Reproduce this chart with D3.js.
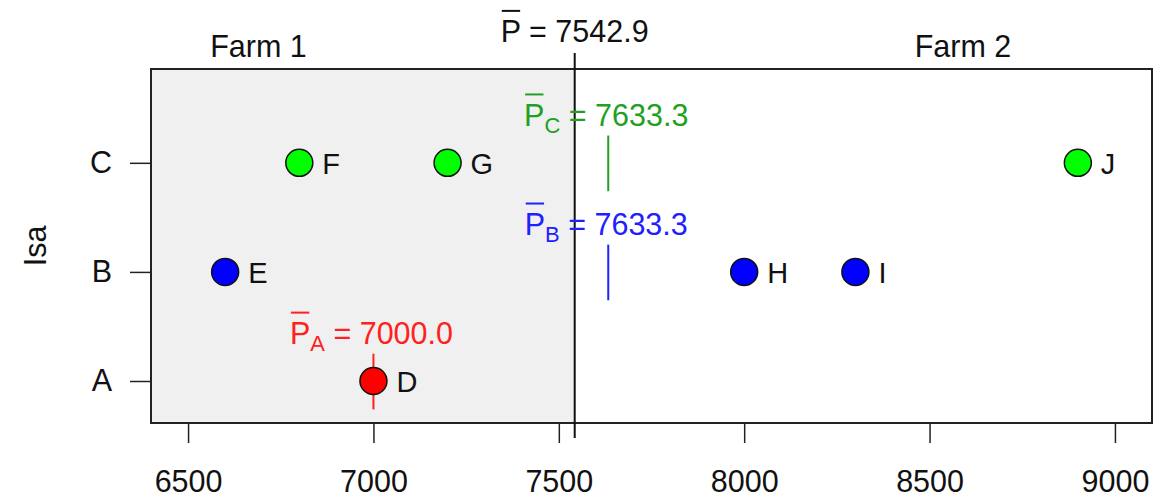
<!DOCTYPE html>
<html>
<head>
<meta charset="utf-8">
<script src="https://cdn.jsdelivr.net/npm/d3@7"></script>
<style>
  html, body { margin: 0; padding: 0; background: #ffffff; }
  text { font-family: "Liberation Sans", Arial, sans-serif; }
</style>
</head>
<body>
<svg id="chart" width="1161" height="499"></svg>
<script>
// ---------------- data ----------------
const pointNames  = ["D", "E", "F", "G", "H", "I", "J"];
const pointGroups = ["A", "B", "C", "C", "B", "B", "C"];
const pointValues = [7000, 6600, 6800, 7200, 8000, 8300, 8900];
const groupLevels = ["A", "B", "C"];
const groupFill   = ["#FF0000", "#0000FF", "#00FF00"];
const groupText   = ["#FF2020", "#2020FF", "#22A022"];
const xTicks      = [6500, 7000, 7500, 8000, 8500, 9000];
const farmNames   = ["Farm 1", "Farm 2"];
const farmLabelAt = [6690, 8590];
const yAxisTitle  = "Isa";

// ---------------- layout ----------------
const svg = d3.select("#chart");
const L = 151, R = 1152, T = 69, B = 423;
const FS = 30.5;

const x = d3.scaleLinear().domain([6400, 9100]).range([L, R]);
const y = d3.scaleLinear().domain([0.615, 3.86]).range([B, T]);
const lvl = g => groupLevels.indexOf(g) + 1;

const grand = d3.mean(pointValues);
const groupMeans = groupLevels.map(g =>
  d3.mean(pointValues.filter((v, i) => pointGroups[i] === g)));

// shaded farm 1 region
svg.append("rect")
  .attr("x", L).attr("y", T)
  .attr("width", x(grand) - L).attr("height", B - T)
  .attr("fill", "#F0F0F0");

// x axis
const xAxis = d3.axisBottom(x).tickValues(xTicks).tickSize(20).tickPadding(27)
  .tickFormat(d3.format("d"));
const gx = svg.append("g").attr("transform", `translate(0,${B})`).call(xAxis);
gx.select(".domain").remove();
gx.selectAll("line").attr("stroke", "#222").attr("stroke-width", 1.5);
gx.selectAll("text").attr("font-size", FS).attr("fill", "#111")
  .attr("font-family", "Liberation Sans, Arial, sans-serif");

// y axis
const yAxis = d3.axisLeft(y).tickValues([1, 2, 3]).tickSize(21).tickPadding(18)
  .tickFormat(d => groupLevels[d - 1]);
const gy = svg.append("g").attr("transform", `translate(${L},0)`).call(yAxis);
gy.select(".domain").remove();
gy.selectAll("line").attr("stroke", "#222").attr("stroke-width", 1.5);
gy.selectAll("text").attr("font-size", FS).attr("fill", "#111")
  .attr("font-family", "Liberation Sans, Arial, sans-serif");

// y title
svg.append("text")
  .attr("transform", `translate(46,${(T + B) / 2}) rotate(-90)`)
  .attr("text-anchor", "middle")
  .attr("font-size", FS).attr("fill", "#111")
  .text(yAxisTitle);

// box
svg.append("rect")
  .attr("x", L).attr("y", T).attr("width", R - L).attr("height", B - T)
  .attr("fill", "none").attr("stroke", "#222").attr("stroke-width", 2);

// grand mean line
svg.append("line")
  .attr("x1", x(grand)).attr("x2", x(grand))
  .attr("y1", 53).attr("y2", 438)
  .attr("stroke", "#111").attr("stroke-width", 2);

// helper: P-bar label
function pbar(cx, baseline, sub, valueStr, color) {
  const t = svg.append("text")
    .attr("x", cx).attr("y", baseline)
    .attr("text-anchor", "middle")
    .attr("font-size", FS).attr("fill", color);
  t.append("tspan").text("P");
  if (sub) {
    t.append("tspan").attr("font-size", FS * 0.72).attr("dy", 7).text(sub);
    t.append("tspan").attr("dy", -7).text(" = " + valueStr);
  } else {
    t.append("tspan").text(" = " + valueStr);
  }
  const bb = t.node().getBBox();
  // overbar over the P
  const pw = FS * 0.667;
  svg.append("line")
    .attr("x1", bb.x + 1).attr("x2", bb.x + pw - 1)
    .attr("y1", baseline - FS * 1.02).attr("y2", baseline - FS * 1.02)
    .attr("stroke", color).attr("stroke-width", 2);
}

pbar(x(grand), 42, null, d3.format(".1f")(grand), "#111");

// farm labels
farmNames.forEach((f, i) => {
  svg.append("text")
    .attr("x", x(farmLabelAt[i])).attr("y", 57)
    .attr("text-anchor", "middle")
    .attr("font-size", FS).attr("fill", "#111")
    .text(f);
});

// group mean segments + labels
groupLevels.forEach((g, i) => {
  const m = groupMeans[i];
  const l = lvl(g);
  svg.append("line")
    .attr("x1", x(m)).attr("x2", x(m))
    .attr("y1", y(l + 0.25)).attr("y2", y(l - 0.26))
    .attr("stroke", groupText[i]).attr("stroke-width", 2);
  pbar(x(m) - 2, y(l + 0.25) - 10, g, d3.format(".1f")(m), groupText[i]);
});

// points
pointValues.forEach((v, i) => {
  const gi = groupLevels.indexOf(pointGroups[i]);
  svg.append("circle")
    .attr("cx", x(v)).attr("cy", y(lvl(pointGroups[i])))
    .attr("r", 13.5)
    .attr("fill", groupFill[gi])
    .attr("stroke", "#111").attr("stroke-width", 1.5);
  svg.append("text")
    .attr("x", x(v) + 23).attr("y", y(lvl(pointGroups[i])) + 11)
    .attr("font-size", FS * 0.95).attr("fill", "#111")
    .text(pointNames[i]);
});
</script>
</body>
</html>
